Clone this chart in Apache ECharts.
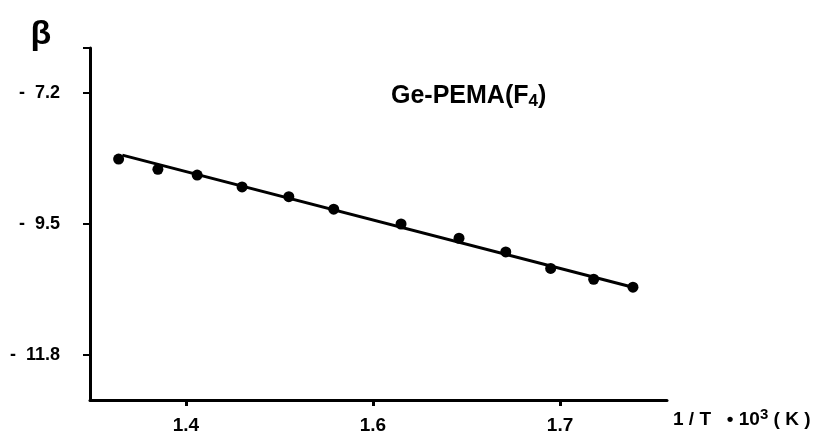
<!DOCTYPE html>
<html>
<head>
<meta charset="utf-8">
<script src="https://cdn.jsdelivr.net/npm/echarts@6/dist/echarts.min.js"></script>
<style>
  html, body { margin: 0; padding: 0; background: #fff; }
  #chart { width: 837px; height: 443px; }
</style>
</head>
<body>
<div id="chart"></div>
<script>
// measured points, beta vs 1/T*10^3
var xValues = [1.464, 1.485, 1.506, 1.530, 1.555, 1.579, 1.615, 1.646, 1.671, 1.695, 1.718, 1.739];
var yValues = [-8.36, -8.54, -8.64, -8.85, -9.02, -9.24, -9.50, -9.75, -9.99, -10.28, -10.47, -10.61];

// fitted straight line, end points
var fitX = [1.466, 1.740];
var fitY = [-8.29, -10.62];

// ticks as printed on the figure
var xTicks = [1.5, 1.6, 1.7];
var xTickLabels = ['1.4', '1.6', '1.7'];
var yTicks = [-7.2, -9.5, -11.8];
var yTickLabels = ['-  7.2', '-  9.5', '-  11.8'];

var FONT = '"Liberation Sans", Arial, sans-serif';

function pickLabel(ticks, labels) {
    return function (val) {
        for (var i = 0; i < ticks.length; i++) {
            if (Math.abs(ticks[i] - val) < 1e-6) return labels[i];
        }
        return '';
    };
}

var myChart = echarts.init(document.getElementById('chart'));

var option = {
    backgroundColor: '#fff',
    animation: false,
    title: {
        text: 'Ge-PEMA(F{sub|4})',
        left: 386,
        top: 78,
        textStyle: {
            fontFamily: FONT,
            fontWeight: 'bold',
            fontSize: 25,
            color: '#000',
            rich: {
                sub: { fontFamily: FONT, fontWeight: 'bold', fontSize: 17, color: '#000', padding: [10, 0, 0, 0] }
            }
        }
    },
    grid: { left: 90, top: 48, width: 577, height: 352, containLabel: false },
    xAxis: {
        type: 'value',
        min: 1.4487,
        max: 1.7572,
        name: '1 / T   \u2022 10{sup|3} ( K )',
        nameLocation: 'end',
        nameGap: 6,
        nameTextStyle: {
            fontFamily: FONT,
            fontWeight: 'bold',
            fontSize: 19,
            color: '#000',
            padding: [40, 0, 0, 0],
            rich: {
                sup: { fontFamily: FONT, fontWeight: 'bold', fontSize: 15, color: '#000', padding: [0, 0, 10, 0] }
            }
        },
        splitLine: { show: false },
        axisLine: { show: true, onZero: false, lineStyle: { color: '#000', width: 3 } },
        axisTick: { show: true, length: 6, customValues: xTicks, lineStyle: { color: '#000', width: 3 } },
        axisLabel: {
            customValues: xTicks,
            margin: 16,
            fontFamily: FONT,
            fontWeight: 'bold',
            fontSize: 19,
            color: '#000',
            formatter: pickLabel(xTicks, xTickLabels)
        }
    },
    yAxis: {
        type: 'value',
        min: -12.59,
        max: -6.41,
        name: '\u03b2',
        nameLocation: 'end',
        nameGap: -4,
        nameTextStyle: {
            fontFamily: FONT,
            fontWeight: 'bold',
            fontSize: 34,
            color: '#000',
            align: 'center',
            padding: [0, 98, 0, 0]
        },
        splitLine: { show: false },
        axisLine: { show: true, onZero: false, lineStyle: { color: '#000', width: 3 } },
        axisTick: { show: true, length: 7, customValues: yTicks.concat([-6.41]), lineStyle: { color: '#000', width: 2 } },
        axisLabel: {
            customValues: yTicks,
            margin: 30,
            fontFamily: FONT,
            fontWeight: 'bold',
            fontSize: 18,
            color: '#000',
            formatter: pickLabel(yTicks, yTickLabels)
        }
    },
    series: [
        {
            type: 'line',
            data: fitX.map(function (x, i) { return [x, fitY[i]]; }),
            showSymbol: false,
            lineStyle: { color: '#000', width: 3 },
            z: 2
        },
        {
            type: 'scatter',
            data: xValues.map(function (x, i) { return [x, yValues[i]]; }),
            symbol: 'circle',
            symbolSize: 11,
            itemStyle: { color: '#000', opacity: 1 },
            z: 3
        }
    ]
};

myChart.setOption(option);
</script>
</body>
</html>
